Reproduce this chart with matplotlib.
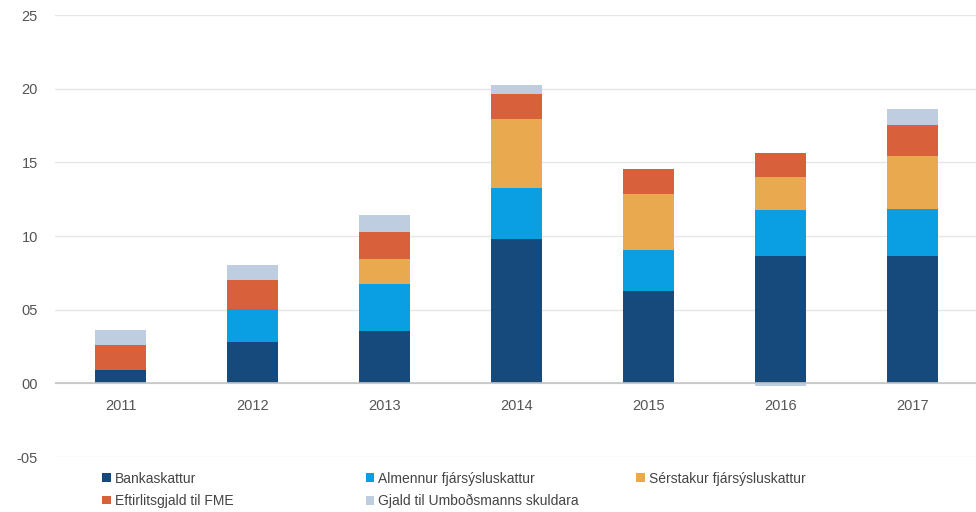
import numpy as np
import matplotlib
matplotlib.use("Agg")
import matplotlib.pyplot as plt
from matplotlib.patches import Patch

plt.rcParams['font.family'] = ['Liberation Sans', 'DejaVu Sans']

years = ["2011", "2012", "2013", "2014", "2015", "2016", "2017"]
bankaskattur = [0.9, 2.8, 3.53, 9.77, 6.26, 8.62, 8.62]
almennur = [0.0, 2.27, 3.23, 3.48, 2.81, 3.12, 3.18]
serstakur = [0.0, 0.0, 1.70, 4.71, 3.80, 2.26, 3.62]
eftirlitsgjald = [1.70, 1.92, 1.81, 1.69, 1.65, 1.62, 2.13]
umbodsmanns = [1.00, 1.06, 1.13, 0.63, 0.0, -0.15, 1.04]

series_names = [
    "Bankaskattur",
    "Almennur fjársýsluskattur",
    "Sérstakur fjársýsluskattur",
    "Eftirlitsgjald til FME",
    "Gjald til Umboðsmanns skuldara",
]
series_values = [bankaskattur, almennur, serstakur, eftirlitsgjald, umbodsmanns]
colors = ["#174a7c", "#0a9fe2", "#e8a94f", "#d8613c", "#bfcde0"]

ytick_values = [-5, 0, 5, 10, 15, 20, 25]
ytick_labels = ["-05", "00", "05", "10", "15", "20", "25"]

fig = plt.figure(figsize=(9.76, 5.12), dpi=100)
ax = fig.add_axes([0.056, 0.1074, 0.944, 0.8633])

x = np.arange(len(years))
pos_bottom = np.zeros(len(years))
neg_bottom = np.zeros(len(years))
handles = []
for name, vals, col in zip(series_names, series_values, colors):
    v = np.asarray(vals, dtype=float)
    bottom = np.where(v >= 0, pos_bottom, neg_bottom)
    ax.bar(x, v, bottom=bottom, width=0.39, color=col, linewidth=0, zorder=3)
    pos_bottom += np.where(v >= 0, v, 0)
    neg_bottom += np.where(v < 0, v, 0)
    handles.append(Patch(facecolor=col, edgecolor='none', label=name))

ax.set_xlim(-0.5, 6.48)
ax.set_ylim(-5, 25)
ax.set_xticks(x)
ax.set_xticklabels(years)
ax.set_yticks(ytick_values)
ax.set_yticklabels(ytick_labels)
ax.tick_params(axis='both', length=0, labelsize=10.5, colors="#555555")
ax.tick_params(axis='x', pad=11)
ax.tick_params(axis='y', pad=12)

# category labels sit along the zero line
ax.spines['bottom'].set_position(('data', 0))
ax.grid(axis='y', color="#e6e6e6", linewidth=1, zorder=0)
ax.axhline(0, color="#c4c4c4", linewidth=1.2, zorder=4)
for s in ax.spines.values():
    s.set_visible(False)

# legend laid out in rows: three column groups
columns = [
    ([handles[0], handles[3]], 0.105),
    ([handles[1], handles[4]], 0.375),
    ([handles[2]], 0.652),
]
for hs, xpos in columns:
    leg = fig.legend(handles=hs, loc='upper left', bbox_to_anchor=(xpos, 0.079),
                     frameon=False, fontsize=10, handlelength=0.6, handleheight=0.6,
                     handletextpad=0.3, labelspacing=0.6, borderaxespad=0,
                     borderpad=0)
    for t in leg.get_texts():
        t.set_color("#444444")

fig.savefig("out.png", dpi=100)
